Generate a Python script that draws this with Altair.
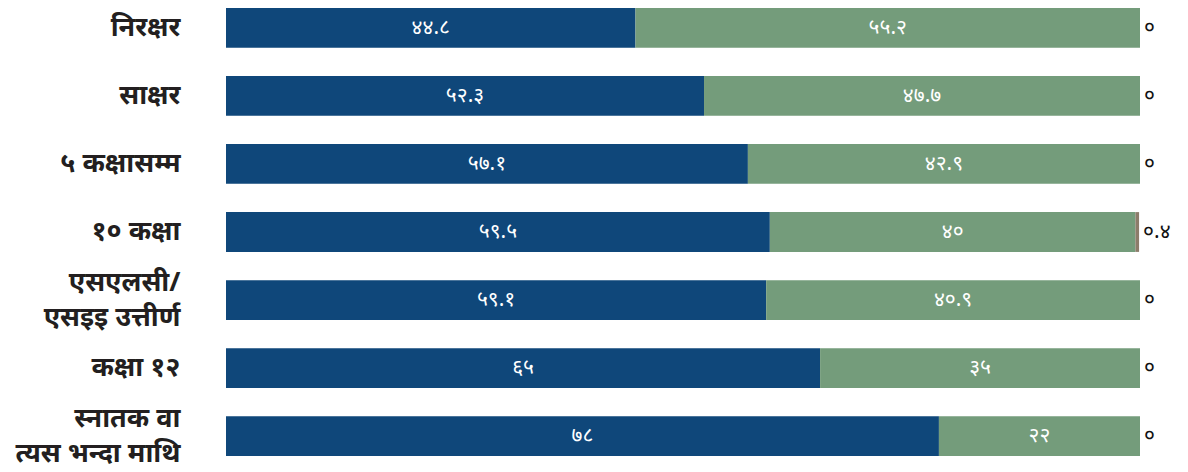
import altair as alt
import pandas as pd

categories = ["निरक्षर", "साक्षर", "५ कक्षासम्म", "१० कक्षा",
              "एसएलसी/|एसइइ उत्तीर्ण", "कक्षा १२", "स्नातक वा|त्यस भन्दा माथि"]
series_a = [44.8, 52.3, 57.1, 59.5, 59.1, 65, 78]
series_b = [55.2, 47.7, 42.9, 40, 40.9, 35, 22]
series_c = [0, 0, 0, 0.4, 0, 0, 0]
series_names = ["a", "b", "c"]
colors = ["#0f477a", "#749c7b", "#8c7c6a"]

DEV = str.maketrans("0123456789", "०१२३४५६७८९")


def dev(v):
    s = ("%g" % v)
    return s.translate(DEV)


rows = []
for i, cat in enumerate(categories):
    for k, vals in enumerate([series_a, series_b, series_c]):
        rows.append({"cat": cat, "series": series_names[k], "order": k,
                     "value": vals[i], "label": dev(vals[i])})
df = pd.DataFrame(rows)

ends = pd.DataFrame({"cat": categories,
                     "total": [a + b + c for a, b, c in zip(series_a, series_b, series_c)],
                     "label": [dev(c) for c in series_c]})

y_enc = alt.Y("cat:N", sort=categories,
              scale=alt.Scale(paddingInner=0.415, paddingOuter=0),
              axis=alt.Axis(title=None, domain=False, ticks=False,
                            labelFont="Noto Sans", labelFontSize=27, labelFontWeight="bold",
                            labelColor="#231f20", labelPadding=46, labelLimit=300,
                            labelLineHeight=35,
                            labelOffset={"condition": {"test": "test(/\\|/, datum.value)", "value": -17},
                                         "value": 0},
                            labelExpr="split(datum.label, '|')"))

base = alt.Chart(df).transform_stack(
    stack="value", groupby=["cat"], as_=["start", "end"],
    sort=[alt.SortField("order", order="ascending")]
).transform_calculate(mid="(datum.start + datum.end) / 2")

bars = base.mark_bar().encode(
    y=y_enc,
    x=alt.X("start:Q", scale=alt.Scale(domain=[0, 100], nice=False), axis=None),
    x2="end:Q",
    color=alt.Color("series:N", scale=alt.Scale(domain=series_names, range=colors), legend=None),
)

texts = base.transform_filter("datum.value >= 5").mark_text(
    color="white", fontSize=21, font="Noto Sans"
).encode(
    y=alt.Y("cat:N", sort=categories),
    x="mid:Q",
    text="label:N",
)

end_text = alt.Chart(ends).mark_text(
    align="left", dx=4, color="#111", fontSize=21, font="Noto Sans"
).encode(
    y=alt.Y("cat:N", sort=categories),
    x="total:Q",
    text="label:N",
)

chart = alt.layer(bars, texts, end_text).properties(
    width=914, height=448,
    autosize=alt.AutoSizeParams(type="none"),
    padding={"left": 218, "top": 0, "right": 40, "bottom": 16},
).configure_view(stroke=None)

chart.save("out.html", embed_options={"renderer": "svg", "actions": False})
